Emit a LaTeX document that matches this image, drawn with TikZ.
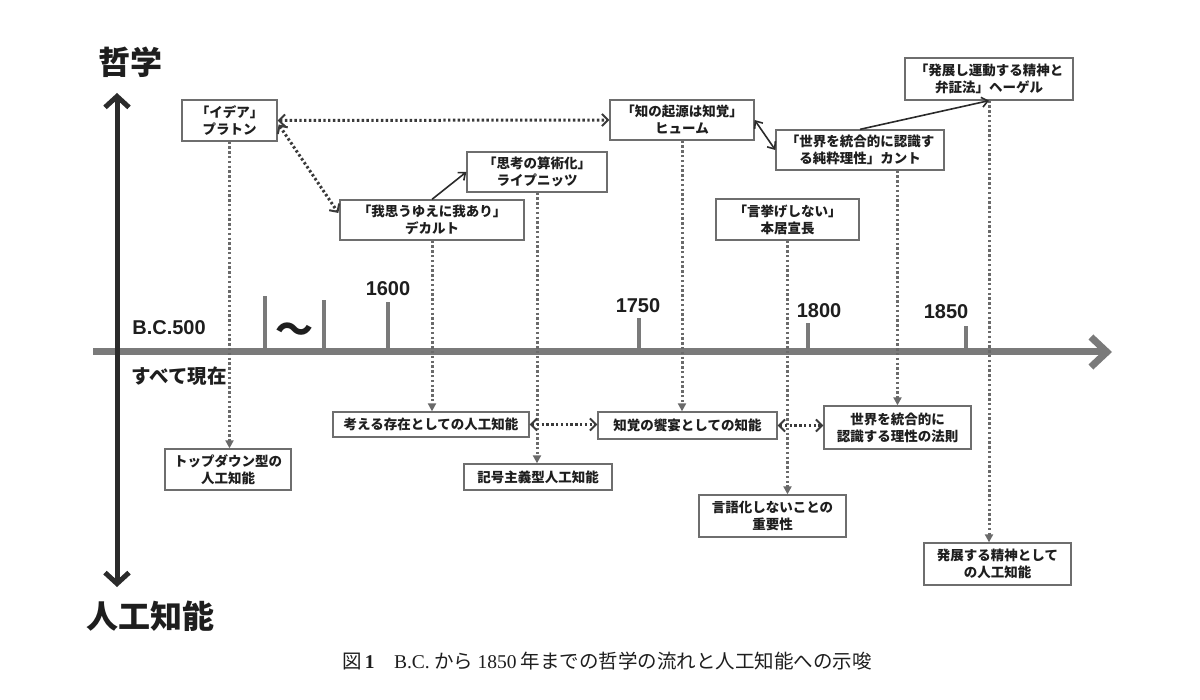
\documentclass[tikz,border=0pt]{standalone}
\usepackage{fontspec}
\setmainfont{Liberation Serif}
\newfontfamily\jp{Noto Sans CJK JP}
\newfontfamily\lat{Liberation Sans}
\usetikzlibrary{arrows.meta,calc}
\definecolor{boxgray}{HTML}{6E6E6E}
\definecolor{dotgray}{HTML}{6A6A6A}
\definecolor{dotdark}{HTML}{3A3A3A}
\definecolor{axisgray}{HTML}{7A7A7A}
\definecolor{axisdark}{HTML}{2B2B2B}
\definecolor{txt}{HTML}{1E1E1E}
\begin{document}
\begin{tikzpicture}[x=1pt,y=-1pt,
  box/.style={draw=boxgray,line width=1.3pt,fill=white,align=center,inner sep=2pt,
    text=txt,font=\jp\bfseries\fontsize{13.5}{17}\selectfont},
  dotline/.style={draw=dotgray,line width=3pt,dash pattern=on 2.4pt off 2.4pt},
  dotarr/.style={dotline,-{Triangle[length=8pt,width=8pt]}},
  dbldot/.style={dotline,draw=dotdark,{Straight Barb[length=6pt,width=12pt,line width=2pt]}-{Straight Barb[length=6pt,width=12pt,line width=2pt]}},
  solidarr/.style={draw=axisdark,line width=1.6pt,-{Straight Barb[length=6pt,width=10pt]}},
  solidbl/.style={draw=axisdark,line width=1.6pt,{Straight Barb[length=6pt,width=10pt]}-{Straight Barb[length=6pt,width=10pt]}},
  tick/.style={draw=axisgray,line width=4pt},
  yearlbl/.style={font=\lat\bfseries\fontsize{20}{20}\selectfont,text=txt},
  biglbl/.style={font=\jp\bfseries\fontsize{32}{32}\selectfont,text=txt}
]
\useasboundingbox (0,0) rectangle (1200,700);

% axes
\draw[draw=axisgray,line width=7pt,-{Straight Barb[length=16pt,width=30pt]}] (93,352) -- (1112,352);
\draw[draw=axisdark,line width=5pt,{Straight Barb[length=11pt,width=24pt]}-{Straight Barb[length=11pt,width=24pt]}] (117,93) -- (117,587);

% ticks
\draw[tick] (265,352) -- (265,296);
\draw[tick] (324,352) -- (324,300);
\draw[tick] (388,352) -- (388,302);
\draw[tick] (639,352) -- (639,318);
\draw[tick] (808,352) -- (808,323);
\draw[tick] (966,352) -- (966,326);

\node[yearlbl] (y1600) at (388,289) {1600};
\node[yearlbl] (y1750) at (638,306) {1750};
\node[yearlbl] (y1800) at (819,311) {1800};
\node[yearlbl] (y1850) at (946,312) {1850};
\node[yearlbl] (bc) at (169,328) {B.C.500};
\node[font=\jp\bfseries\fontsize{19.5}{19.5}\selectfont,text=txt] (now) at (179,376) {すべて現在};
\node[font=\jp\bfseries\fontsize{38}{38}\selectfont,text=txt] (tilde) at (294,333) {〜};

\node[biglbl] (phil) at (130,62) {哲学};
\node[biglbl] (ai) at (150,616) {人工知能};

% top boxes
\node[box,minimum width=95pt,minimum height=41pt] (plato) at (229.5,120.5) {「イデア」\\プラトン};
\node[box,minimum width=184pt,minimum height=40pt] (desc) at (432,220) {「我思うゆえに我あり」\\デカルト};
\node[box,minimum width=140pt,minimum height=40pt] (leib) at (537,172) {「思考の算術化」\\ライプニッツ};
\node[box,minimum width=144pt,minimum height=40pt] (hume) at (682,120) {「知の起源は知覚」\\ヒューム};
\node[box,minimum width=168pt,minimum height=40pt] (kant) at (860,150) {「世界を統合的に認識す\\る純粋理性」カント};
\node[box,minimum width=168pt,minimum height=42pt] (hegel) at (989,79) {「発展し運動する精神と\\弁証法」ヘーゲル};
\node[box,minimum width=143pt,minimum height=41pt] (moto) at (787.5,219.5) {「言挙げしない」\\本居宣長};

% bottom boxes
\node[box,minimum width=126pt,minimum height=41pt] (topdown) at (228,469.5) {トップダウン型の\\人工知能};
\node[box,minimum width=196pt,minimum height=25pt] (kangae) at (431,424.5) {考える存在としての人工知能};
\node[box,minimum width=148pt,minimum height=26pt] (kigou) at (538,477) {記号主義型人工知能};
\node[box,minimum width=179pt,minimum height=27pt] (chikaku) at (687.5,425.5) {知覚の饗宴としての知能};
\node[box,minimum width=147pt,minimum height=43pt] (sekai) at (897.5,427.5) {世界を統合的に\\認識する理性の法則};
\node[box,minimum width=147pt,minimum height=42pt] (gengo) at (772.5,516) {言語化しないことの\\重要性};
\node[box,minimum width=147pt,minimum height=42pt] (hatten) at (997.5,564) {発展する精神として\\の人工知能};

% vertical dotted connectors
\draw[dotarr] (plato.south) -- (plato.south |- topdown.north);
\draw[dotarr] (desc.south) -- (desc.south |- kangae.north);
\draw[dotarr] (leib.south) -- (leib.south |- kigou.north);
\draw[dotarr] (hume.south) -- (hume.south |- chikaku.north);
\draw[dotarr] (moto.south) -- (moto.south |- gengo.north);
\draw[dotarr] (kant.south -| sekai.north) -- (sekai.north);
\draw[dotarr] (hegel.south) -- (hegel.south |- hatten.north);

% dotted double arrows
\draw[dbldot] (plato.east) -- (hume.west);
\draw[dbldot] ($(plato.east)+(1,4)$) -- ($(desc.west)+(-1,-7)$);
\draw[dbldot] (kangae.east) -- (kangae.east -| chikaku.west);
\draw[dbldot] (chikaku.east) -- (chikaku.east -| sekai.west);

% solid arrows
\draw[solidarr] (desc.north) -- (leib.west);
\draw[solidbl] (hume.east) -- (kant.west);
\draw[solidarr] (kant.north) -- (hegel.south);

% caption
\node[font=\jp\fontsize{19.5}{19.5}\selectfont,text=txt] (cap) at (607,661) {図\,{\rmfamily\bfseries 1}\quad {\rmfamily B.C.} から {\rmfamily 1850} 年までの哲学の流れと人工知能への示唆};
\end{tikzpicture}
\end{document}
